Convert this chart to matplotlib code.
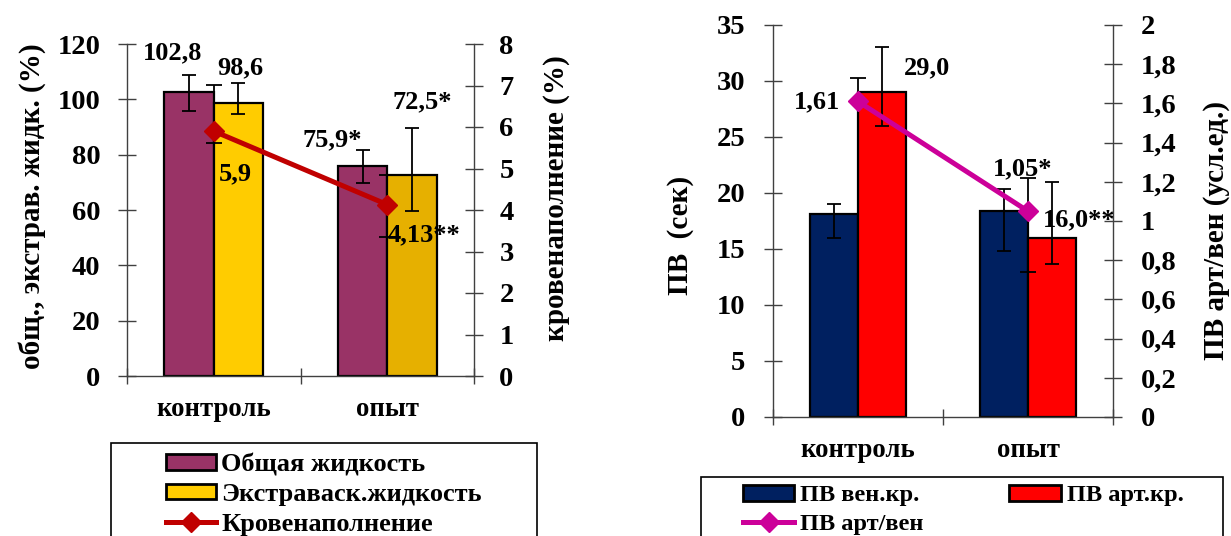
import matplotlib
matplotlib.use('Agg')
import matplotlib.pyplot as plt
from matplotlib.patches import Patch, Rectangle
from matplotlib.lines import Line2D

plt.rcParams['font.family'] = ['Liberation Serif', 'DejaVu Serif']
plt.rcParams['font.weight'] = 'bold'

W, H = 1231, 536

categories = ['контроль', 'опыт']

# left chart
total_fluid = [102.8, 75.9]
total_err = [[7.1, 6.1], [5.9, 5.7]]
extra_fluid = [98.6, 72.5]
extra_err = [[3.8, 12.8], [7.2, 17.1]]
blood_fill = [5.9, 4.13]
blood_err = [[0.29, 0.79], [1.11, 0.71]]
total_labels = ['102,8', '75,9*']
extra_labels = ['98,6', '72,5*']
blood_labels = ['5,9', '4,13**']

# right chart
pv_ven = [18.1, 18.4]
pv_ven_err = [[2.1, 3.6], [0.95, 2.0]]
pv_art = [29.0, 16.0]
pv_art_err = [[3.0, 2.3], [4.0, 5.0]]
pv_ratio = [1.61, 1.05]
pv_ratio_err = [[0.0, 0.31], [0.12, 0.17]]
pv_art_labels = ['29,0', '16,0**']
pv_ratio_labels = ['1,61', '1,05*']

AXC = '#404040'
BW = 0.285
TICK_FS = 20.5
LAB_FS = 21
VAL_FS = 19


def fx(px):
    return px / W


def fy(py):
    return 1 - py / H


def make_axes(x0, x1, ytop, ybot, ymax, ystep, ymax2, yticks2, ytl2,
              lpad, rpad):
    ax = fig.add_axes([fx(x0), fy(ybot), (x1 - x0) / W, (ybot - ytop) / H])
    ax2 = ax.twinx()
    ax.set_xlim(-0.5, 1.5)
    ax.set_ylim(0, ymax)
    ax2.set_ylim(0, ymax2)
    for a in (ax, ax2):
        a.spines['top'].set_visible(False)
        for s in a.spines.values():
            s.set_color(AXC)
            s.set_linewidth(1)
    ax.spines['right'].set_visible(False)
    ax2.spines['left'].set_visible(False)
    ax2.spines['bottom'].set_visible(False)
    ax.set_yticks(range(0, ymax + 1, ystep))
    ax.tick_params(axis='y', direction='inout', length=12.5, width=1,
                   color=AXC, labelsize=TICK_FS, pad=lpad)
    ax2.set_yticks(yticks2)
    ax2.set_yticklabels(ytl2)
    ax2.tick_params(axis='y', direction='inout', length=12.5, width=1,
                    color=AXC, labelsize=TICK_FS, pad=rpad)
    ax.set_xticks([-0.5, 0.5, 1.5])
    ax.set_xticklabels([])
    ax.set_xticks([0, 1], minor=True)
    ax.set_xticklabels(categories, minor=True, fontsize=19.3)
    ax.tick_params(axis='x', which='major', direction='inout', length=11,
                   width=1, color=AXC)
    ax.tick_params(axis='x', which='minor', length=0, pad=15)
    for t in ax.get_yticklabels() + ax2.get_yticklabels():
        t.set_fontweight('bold')
    return ax, ax2


fig = plt.figure(figsize=(W / 100, H / 100), dpi=100)

err_kw = dict(ecolor='black', elinewidth=1.3, capthick=1.3)
xs = [0, 1]

# ---------- left chart ----------
axL, axL2 = make_axes(127, 474, 44, 376, 120, 20, 8, range(0, 9),
                      [str(v) for v in range(0, 9)], 13, 12)
axL.bar([x - BW / 2 for x in xs], total_fluid, BW, color='#993366',
        edgecolor='black', linewidth=1.6, yerr=total_err, capsize=5,
        error_kw=err_kw)
axL.bar([x + BW / 2 for x in xs], extra_fluid, BW,
        color=['#FFCC00', '#E6B000'], edgecolor='black', linewidth=1.6,
        yerr=extra_err, capsize=5, error_kw=err_kw)
axL2.errorbar(xs, blood_fill, yerr=blood_err, color='#C00000', lw=3.6,
              marker='D', ms=10, ecolor='black', elinewidth=1.3,
              capsize=6, capthick=1.3)

for x, v, s, (dx, dy) in zip(xs, total_fluid, total_labels,
                             [(-12.2, 27.8), (-22, 18.7)]):
    axL.annotate(s, (x - BW / 2, v), xytext=(dx, dy),
                 textcoords='offset points', ha='center', va='center',
                 fontsize=VAL_FS)
for x, v, s, (dx, dy) in zip(xs, extra_fluid, extra_labels,
                             [(1.4, 25.2), (7.2, 53.3)]):
    axL.annotate(s, (x + BW / 2, v), xytext=(dx, dy),
                 textcoords='offset points', ha='center', va='center',
                 fontsize=VAL_FS)
for x, v, s, (dx, dy) in zip(xs, blood_fill, blood_labels,
                             [(15.8, -31), (26.6, -21.6)]):
    axL2.annotate(s, (x, v), xytext=(dx, dy), textcoords='offset points',
                  ha='center', va='center', fontsize=VAL_FS)

fig.text(fx(32), fy(206), 'общ., экстрав. жидк. (%)', rotation=90,
         ha='center', va='center', fontsize=LAB_FS)
fig.text(fx(557), fy(198), 'кровенаполнение (%)', rotation=90,
         ha='center', va='center', fontsize=LAB_FS)

fig.patches.append(Rectangle((fx(111), fy(548)), 426 / W, 105 / H,
                             transform=fig.transFigure, fill=False,
                             edgecolor='black', lw=1.2))
hL = [Patch(facecolor='#993366', edgecolor='black', lw=2),
      Patch(facecolor='#FFCC00', edgecolor='black', lw=2),
      Line2D([], [], color='#C00000', lw=3.6, marker='D', ms=10)]
fig.legend(hL, ['Общая жидкость', 'Экстраваск.жидкость', 'Кровенаполнение'],
           loc='upper left', bbox_to_anchor=(fx(166), fy(453)),
           frameon=False, borderaxespad=0, borderpad=0, fontsize=19,
           handlelength=1.9, handleheight=0.55, handletextpad=0.2,
           labelspacing=0.26)

# ---------- right chart ----------
r_ticks = [i * 0.2 for i in range(11)]
r_labels = ['0', '0,2', '0,4', '0,6', '0,8', '1', '1,2', '1,4', '1,6',
            '1,8', '2']
axR, axR2 = make_axes(773, 1113, 25, 417, 35, 5, 2, r_ticks, r_labels,
                      14, 14)
axR.bar([x - BW / 2 for x in xs], pv_ven, BW, color='#002060',
        edgecolor='black', linewidth=1.6, yerr=pv_ven_err, capsize=5,
        error_kw=err_kw)
axR.bar([x + BW / 2 for x in xs], pv_art, BW, color='#FF0000',
        edgecolor='black', linewidth=1.6, yerr=pv_art_err, capsize=5,
        error_kw=err_kw)
axR2.errorbar(xs, pv_ratio, yerr=pv_ratio_err, color='#CC0099', lw=3.6,
              marker='D', ms=10, ecolor='black', elinewidth=1.3,
              capsize=6, capthick=1.3)

for x, v, s, (dx, dy) in zip(xs, pv_art, pv_art_labels,
                             [(32.4, 17.3), (19.4, 13)]):
    axR.annotate(s, (x + BW / 2, v), xytext=(dx, dy),
                 textcoords='offset points', ha='center', va='center',
                 fontsize=VAL_FS)
for x, v, s, (dx, dy) in zip(xs, pv_ratio, pv_ratio_labels,
                             [(-29.5, 0), (-3.6, 30.2)]):
    axR2.annotate(s, (x, v), xytext=(dx, dy), textcoords='offset points',
                  ha='center', va='center', fontsize=VAL_FS)

fig.text(fx(680), fy(235), 'ПВ  (сек)', rotation=90,
         ha='center', va='center', fontsize=LAB_FS)
fig.text(fx(1216), fy(231), 'ПВ арт/вен (усл.ед.)', rotation=90,
         ha='center', va='center', fontsize=LAB_FS)

fig.patches.append(Rectangle((fx(701), fy(548)), 522 / W, 71 / H,
                             transform=fig.transFigure, fill=False,
                             edgecolor='black', lw=1.2))
hR = [Patch(facecolor='#002060', edgecolor='black', lw=2),
      Line2D([], [], color='#CC0099', lw=3.6, marker='D', ms=10),
      Patch(facecolor='#FF0000', edgecolor='black', lw=2)]
fig.legend(hR, ['ПВ вен.кр.', 'ПВ арт/вен', 'ПВ арт.кр.'], ncol=2,
           loc='upper left', bbox_to_anchor=(fx(743), fy(485)),
           frameon=False, borderaxespad=0, borderpad=0, fontsize=17.6,
           handlelength=2.1, handleheight=0.6, handletextpad=0.25,
           labelspacing=0.3, columnspacing=3.5)

fig.savefig('out.png', dpi=100)
